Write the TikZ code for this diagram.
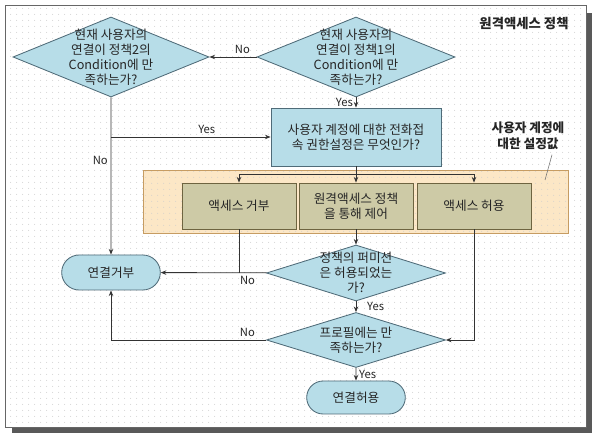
\documentclass[tikz,border=0pt]{standalone}
\usepackage{fontspec}
\setmainfont{Noto Sans CJK KR}
\usetikzlibrary{arrows.meta, positioning, shapes.geometric, shapes.misc, patterns.meta}

\definecolor{cyanfill}{HTML}{B7DDE8}
\definecolor{cyanedge}{HTML}{4F6B78}
\definecolor{olivefill}{HTML}{CDCAA6}
\definecolor{oliveedge}{HTML}{6E6440}
\definecolor{orangefill}{HTML}{FCE7C6}
\definecolor{orangeedge}{HTML}{C69C62}
\definecolor{linec}{HTML}{333333}

\begin{document}
\begin{tikzpicture}[
  >={Stealth[length=4pt,width=3.2pt]}, line width=0.6pt,
  every node/.style={font=\fontsize{9}{10.7}\selectfont, text=black!85},
  decision/.style={diamond, draw=cyanedge, fill=cyanfill, inner sep=0pt},
  process/.style={draw=cyanedge, fill=cyanfill, minimum width=4.25cm, minimum height=1.45cm, align=center},
  terminal/.style={rounded rectangle, draw=cyanedge, fill=cyanfill, minimum width=2.7cm, minimum height=0.875cm},
  option/.style={draw=oliveedge, fill=olivefill, minimum width=2.85cm, minimum height=1.15cm, align=center},
  yn/.style={font=\fontsize{8}{9}\selectfont, inner sep=2pt},
  bold/.style={font=\bfseries\fontsize{9.5}{11.5}\selectfont, align=center}
]
  \useasboundingbox (0,0) rectangle (14.8,10.825);
  % frame with shadow and dotted paper
  \fill[black!65] (0.3,0) rectangle (14.8,10.5);
  \draw[black!60, fill=white] (0.125,0.15) rectangle (14.65,10.7);
  \fill[pattern={Dots[distance=4pt, radius=0.35pt]}, pattern color=black!25] (0.15,0.17) rectangle (14.63,10.68);

  \node[bold] (title) at (13.1,10.225) {원격액세스 정책};

  \node[decision, minimum width=4.9cm, minimum height=2cm,
    label={[align=center]center:{현재 사용자의\\연결이 정책2의\\Condition에 만\\족하는가?}}] (cond2) at (2.775,9.4) {};
  \node[decision, minimum width=4.95cm, minimum height=2cm,
    label={[align=center]center:{현재 사용자의\\연결이 정책1의\\Condition에 만\\족하는가?}}] (cond1) at (8.9,9.4) {};
  \node[process] (perm) at (8.9,7.4) {사용자 계정에 대한 전화접\\속 권한설정은 무엇인가?};

  \node[bold, font=\bfseries\fontsize{9}{11}\selectfont] (note) at (13.2,7.425) {사용자 계정에\\대한 설정값};
  \node[draw=orangeedge, preaction={fill=orangefill}, pattern={Dots[distance=4pt, radius=0.35pt]}, pattern color=black!20,
    minimum width=10.625cm, minimum height=1.575cm] (setting) at (8.8875,5.7875) {};
  \node[option] (deny) at (5.975,5.675) {액세스 거부};
  \node[option] (ctrl) at (8.9,5.675) {원격액세스 정책\\을 통해 제어};
  \node[option] (allow) at (11.85,5.675) {액세스 허용};
  \coordinate (split) at (8.9,6.475);
  \coordinate (tip) at (13.625,6.325);

  \node[decision, minimum width=4.475cm, minimum height=1.4cm,
    label={[align=center]center:{정책의 퍼미션\\은 허용되었는\\가?}}] (granted) at (8.9,4.0) {};
  \node[decision, minimum width=4.475cm, minimum height=1.375cm,
    label={[align=center]center:{프로필에는 만\\족하는가?}}] (profile) at (8.9,2.325) {};
  \node[terminal] (reject) at (2.775,4.0125) {연결거부};
  \node[terminal, minimum height=0.825cm] (accept) at (8.9,0.8875) {연결허용};

  \draw[black!55, line width=0.4pt] ([xshift=0.6cm]note.south) -- (tip);
  \draw[->, linec] (cond1) -- node[yn, above, pos=0.3] {No} (cond2);
  \draw[->, linec] (cond1) -- node[yn, left] {Yes} (perm);
  \draw[->, linec] (cond2) -- node[yn, left, pos=0.4] {No} (reject);
  \draw[->, linec] (cond2 |- perm) -- node[yn, above, pos=0.6] {Yes} (perm);
  \draw[->, linec] (perm) -- (ctrl);
  \draw[->, linec] (split) -| (deny);
  \draw[->, linec] (split) -| (allow);
  \draw[->, linec] (ctrl) -- (granted);
  \draw[linec] (deny) -- (deny |- granted);
  \draw[->, linec] (granted) -- node[yn, below, pos=0.18] {No} (reject);
  \draw[->, linec] (granted) -- node[yn, right, xshift=0.2cm] {Yes} (profile);
  \draw[->, linec] (allow) |- (profile);
  \draw[->, linec] (profile) -| node[yn, above, pos=0.06] {No} (reject);
  \draw[->, linec] (profile) -- node[yn, right] {Yes} (accept);
\end{tikzpicture}
\end{document}
